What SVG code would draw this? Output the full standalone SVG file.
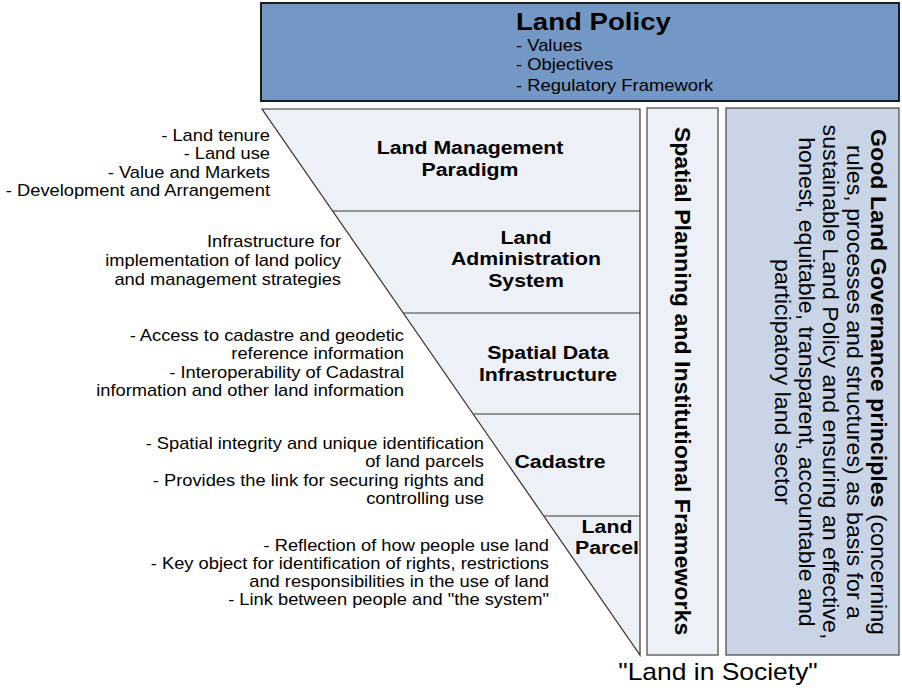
<svg xmlns="http://www.w3.org/2000/svg" width="902" height="691" viewBox="0 0 902 691">
  <style>
    .t { font-family: "Liberation Sans", Arial, sans-serif; fill: #000; }
    .note { font-size: 15.9px; text-anchor: end; }
    .layer { font-size: 18.5px; font-weight: bold; text-anchor: middle; }
    .edge { fill: none; stroke: #3a3a3a; stroke-width: 1; }
  </style>

  <!-- Land Policy header -->
  <g id="land-policy">
    <rect x="261" y="3" width="638" height="98" fill="#7498C6" stroke="#1c1c1c" stroke-width="2"/>
    <text class="t" transform="translate(516,30) scale(1.15,1)" font-size="24" font-weight="bold">Land Policy</text>
    <text class="t" transform="translate(516,0) scale(1.15,1)" font-size="16"><tspan x="0" y="51">- Values</tspan><tspan x="0" y="70">- Objectives</tspan><tspan x="0" y="91">- Regulatory Framework</tspan></text>
  </g>

  <!-- Inverted triangle of layers -->
  <g id="layers">
    <polygon points="262,109 640,109 640,655" fill="#EDF0F6" stroke="#333" stroke-width="1.2"/>
  </g>

  <!-- Layer dividers -->
  <g id="connectors">
    <line class="edge" x1="332.6" y1="211" x2="640" y2="211"/>
    <line class="edge" x1="403.2" y1="313" x2="640" y2="313"/>
    <line class="edge" x1="473.2" y1="414" x2="640" y2="414"/>
    <line class="edge" x1="543.8" y1="516" x2="640" y2="516"/>
  </g>

  <g id="land-management">
    <text class="t layer" transform="translate(470,0) scale(1.15,1)"><tspan x="0" y="154">Land Management</tspan><tspan x="0" y="176">Paradigm</tspan></text>
    <text class="t note" transform="translate(270,0) scale(1.15,1)"><tspan x="0" y="141">- Land tenure</tspan><tspan x="0" y="159.5">- Land use</tspan><tspan x="0" y="178">- Value and Markets</tspan><tspan x="0" y="196.5">- Development and Arrangement</tspan></text>
  </g>

  <g id="land-administration">
    <text class="t layer" transform="translate(526,0) scale(1.15,1)"><tspan x="0" y="244">Land</tspan><tspan x="0" y="265.5">Administration</tspan><tspan x="0" y="287">System</tspan></text>
    <text class="t note" transform="translate(341,0) scale(1.15,1)"><tspan x="0" y="247">Infrastructure for</tspan><tspan x="0" y="266">implementation of land policy</tspan><tspan x="0" y="285">and management strategies</tspan></text>
  </g>

  <g id="sdi">
    <text class="t layer" transform="translate(548,0) scale(1.15,1)"><tspan x="0" y="359">Spatial Data</tspan><tspan x="0" y="381">Infrastructure</tspan></text>
    <text class="t note" transform="translate(404,0) scale(1.15,1)"><tspan x="0" y="341">- Access to cadastre and geodetic</tspan><tspan x="0" y="359.5">reference information</tspan><tspan x="0" y="378">- Interoperability of Cadastral</tspan><tspan x="0" y="396.5">information and other land information</tspan></text>
  </g>

  <g id="cadastre">
    <text class="t layer" transform="translate(560,468) scale(1.15,1)">Cadastre</text>
    <text class="t note" transform="translate(484,0) scale(1.15,1)"><tspan x="0" y="449">- Spatial integrity and unique identification</tspan><tspan x="0" y="467.5">of land parcels</tspan><tspan x="0" y="486">- Provides the link for securing rights and</tspan><tspan x="0" y="504.5">controlling use</tspan></text>
  </g>

  <g id="land-parcel">
    <text class="t layer" transform="translate(607,0) scale(1.15,1)"><tspan x="0" y="533">Land</tspan><tspan x="0" y="554">Parcel</tspan></text>
    <text class="t note" transform="translate(549,0) scale(1.15,1)"><tspan x="0" y="551">- Reflection of how people use land</tspan><tspan x="0" y="569">- Key object for identification of rights, restrictions</tspan><tspan x="0" y="587">and responsibilities in the use of land</tspan><tspan x="0" y="605">- Link between people and "the system"</tspan></text>
  </g>

  <!-- Vertical column: spatial planning -->
  <g id="spatial-planning">
    <rect x="647" y="108" width="71" height="547" fill="#EDF0F6" stroke="#444" stroke-width="1.2"/>
    <text class="t" transform="translate(675,381) rotate(90) scale(1.22,1.15)" font-size="19" font-weight="bold" text-anchor="middle">Spatial Planning and Institutional Frameworks</text>
  </g>

  <!-- Vertical column: governance principles -->
  <g id="good-governance">
    <rect x="726" y="108" width="173" height="547" fill="#C9D5E6" stroke="#444" stroke-width="1.2"/>
    <g class="t" font-size="19" text-anchor="middle">
      <text transform="translate(871,382) rotate(90) scale(1.22,1.15)"><tspan font-weight="bold">Good Land Governance principles</tspan> (concerning</text>
      <text transform="translate(847,382) rotate(90) scale(1.22,1.15)">rules, processes and structures) as basis for a</text>
      <text transform="translate(823,382) rotate(90) scale(1.22,1.15)">sustainable Land Policy and ensuring an effective,</text>
      <text transform="translate(799,382) rotate(90) scale(1.22,1.15)">honest, equitable, transparent, accountable and</text>
      <text transform="translate(775,382) rotate(90) scale(1.22,1.15)">participatory land sector</text>
    </g>
  </g>

  <text class="t" transform="translate(718,680) scale(1.15,1)" font-size="23" text-anchor="middle">"Land in Society"</text>
</svg>
